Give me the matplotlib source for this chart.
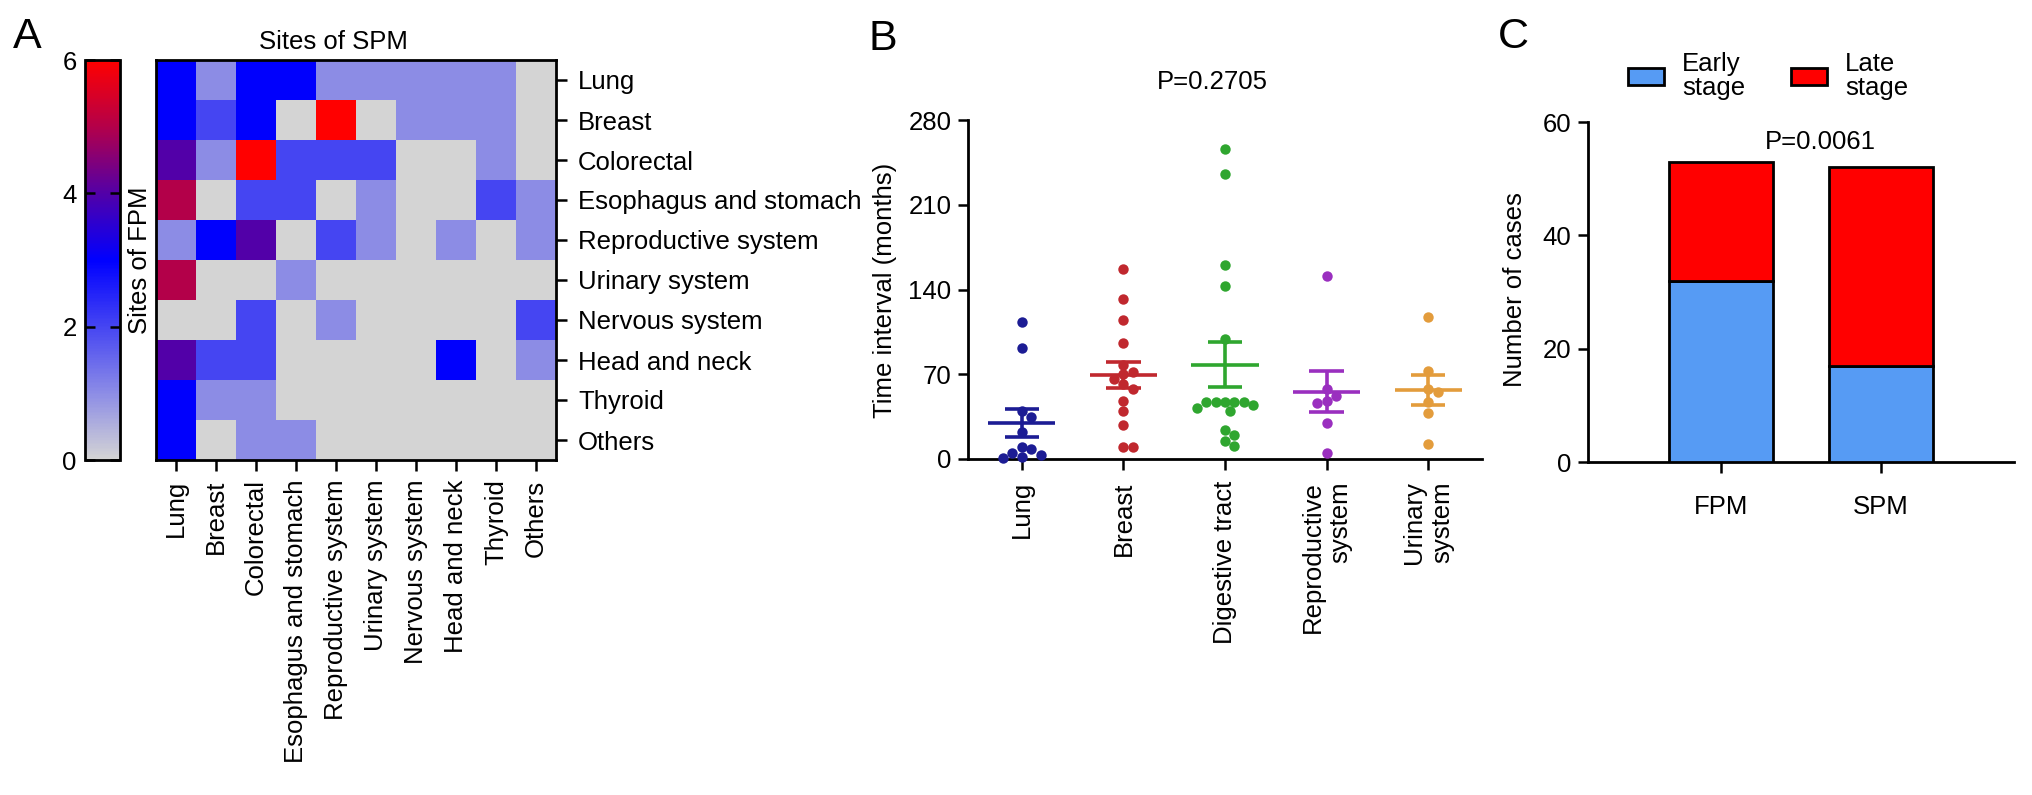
import numpy as np
import matplotlib
matplotlib.use('Agg')
import matplotlib.pyplot as plt
from matplotlib.colors import LinearSegmentedColormap
from matplotlib.patches import Patch

plt.rcParams['font.family'] = ['Liberation Sans', 'DejaVu Sans']

# ---------------- data ----------------
sites = ["Lung", "Breast", "Colorectal", "Esophagus and stomach", "Reproductive system",
         "Urinary system", "Nervous system", "Head and neck", "Thyroid", "Others"]
# rows: sites of FPM, columns: sites of SPM
heat_values = [
    [3, 1, 3, 3, 1, 1, 1, 1, 1, 0],
    [3, 2, 3, 0, 6, 0, 1, 1, 1, 0],
    [4, 1, 6, 2, 2, 2, 0, 0, 1, 0],
    [5, 0, 2, 2, 0, 1, 0, 0, 2, 1],
    [1, 3, 4, 0, 2, 1, 0, 1, 0, 1],
    [5, 0, 0, 1, 0, 0, 0, 0, 0, 0],
    [0, 0, 2, 0, 1, 0, 0, 0, 0, 2],
    [4, 2, 2, 0, 0, 0, 0, 3, 0, 1],
    [3, 1, 1, 0, 0, 0, 0, 0, 0, 0],
    [3, 0, 1, 1, 0, 0, 0, 0, 0, 0],
]
cbar_ticks = [0, 2, 4, 6]

groups_b = ["Lung", "Breast", "Digestive tract", "Reproductive\nsystem", "Urinary\nsystem"]
lung_vals = [113, 92, 40, 35, 22, 10, 8, 5, 3, 2, 1]
breast_vals = [157, 132, 115, 96, 78, 72, 70, 66, 62, 58, 48, 40, 28, 10, 10]
digestive_vals = [256, 235, 160, 143, 99, 47, 47, 45, 42, 47, 47, 47, 40, 24, 20, 15, 11]
reproductive_vals = [151, 58, 52, 48, 46, 30, 5]
urinary_vals = [117, 73, 58, 55, 47, 38, 12]
b_colors = ["#1c1c94", "#c0282e", "#2fa62f", "#9a2fbf", "#e39c3c"]
b_yticks = [0, 70, 140, 210, 280]

stage_groups = ["FPM", "SPM"]
early_counts = [32, 17]
late_counts = [21, 35]
c_yticks = [0, 20, 40, 60]

# ---------------- figure ----------------
W, H = 2032, 795
fig = plt.figure(figsize=(W / 100, H / 100), dpi=100)
FS = 18.5


def ax_px(l, t, r, b):
    return fig.add_axes([l / W, 1 - b / H, (r - l) / W, (b - t) / H])


# ----- Panel A: heatmap -----
cmap = LinearSegmentedColormap.from_list(
    "fpm", [(0, "#d4d4d4"), (1 / 6, "#8c8ce6"), (2 / 6, "#4545f2"), (3 / 6, "#0000ff"),
            (4 / 6, "#5200a8"), (5 / 6, "#b3004a"), (1, "#ff0000")])
ax_h = ax_px(156, 60, 556, 460)
im = ax_h.imshow(np.array(heat_values), cmap=cmap, vmin=0, vmax=6, aspect='auto',
                 interpolation='nearest')
ax_h.set_xticks(range(len(sites)))
ax_h.set_xticklabels(sites, rotation=90, fontsize=FS)
ax_h.set_yticks(range(len(sites)))
ax_h.set_yticklabels(sites, fontsize=FS)
ax_h.tick_params(axis='x', bottom=True, top=False, direction='out', length=8, width=1.8, pad=6)
ax_h.tick_params(axis='y', left=False, right=True, labelleft=False, labelright=True,
                 direction='out', length=8, width=1.8, pad=8)
for s in ax_h.spines.values():
    s.set_linewidth(2)

cax = ax_px(85, 60, 120, 460)
cb = fig.colorbar(im, cax=cax, ticks=cbar_ticks)
cb.outline.set_linewidth(2)
cax.yaxis.set_ticks_position('both')
cax.tick_params(direction='in', left=True, right=True, labelleft=True, labelright=False,
                length=7, width=1.8, labelsize=FS, pad=6)

fig.text(13 / W, 1 - 48 / H, "A", fontsize=31, ha='left', va='baseline')
fig.text(333 / W, 1 - 42 / H, "Sites of SPM", fontsize=FS, ha='center', va='center')
fig.text(140 / W, 1 - 260 / H, "Sites of FPM", fontsize=FS, ha='center', va='center',
         rotation=90)

# ----- Panel B: dot plot -----
ax_b = ax_px(968, 120, 1482, 459)
b_data = [lung_vals, breast_vals, digestive_vals, reproductive_vals, urinary_vals]


def swarm_offsets(vals, dx, dy):
    vals = np.asarray(vals, float)
    order = np.argsort(-vals)
    placed = []
    offs = np.zeros(len(vals))
    cands = [0.0]
    for k in range(1, 40):
        cands += [k * dx * 0.5, -k * dx * 0.5]
    for i in order:
        y = vals[i]
        for c in cands:
            if all(((c - px) / dx) ** 2 + ((y - py) / dy) ** 2 >= 1.0 for px, py in placed):
                break
        offs[i] = c
        placed.append((c, y))
    return offs


for i, (vals, col) in enumerate(zip(b_data, b_colors)):
    v = np.asarray(vals, float)
    offs = swarm_offsets(v, 0.092, 7.6)
    ax_b.plot(i + offs, v, 'o', color=col, ms=7.5, mec='none', clip_on=False, zorder=3)
    m = v.mean()
    sem = v.std(ddof=1) / np.sqrt(len(v))
    ax_b.hlines(m, i - 0.33, i + 0.33, color=col, lw=2.6, zorder=4)
    ax_b.hlines([m - sem, m + sem], i - 0.17, i + 0.17, color=col, lw=2.6, zorder=4)
    ax_b.vlines(i, m - sem, m + sem, color=col, lw=2.6, zorder=4)

ax_b.set_xlim(-0.53, 4.53)
ax_b.set_ylim(0, 280)
ax_b.set_yticks(b_yticks)
ax_b.set_xticks(range(len(groups_b)))
ax_b.set_xticklabels(groups_b, rotation=90, fontsize=FS, multialignment='right')
ax_b.tick_params(axis='y', labelsize=FS, length=7, width=1.8, pad=5)
ax_b.tick_params(axis='x', length=8, width=1.8, pad=8)
for k in ['top', 'right']:
    ax_b.spines[k].set_visible(False)
for k in ['left', 'bottom']:
    ax_b.spines[k].set_linewidth(2)

fig.text(869 / W, 1 - 50 / H, "B", fontsize=31, ha='left', va='baseline')
fig.text(1212 / W, 1 - 82 / H, "P=0.2705", fontsize=FS, ha='center', va='center')
fig.text(885 / W, 1 - 290 / H, "Time interval (months)", fontsize=FS, ha='center',
         va='center', rotation=90)

# ----- Panel C: stacked bars -----
blue = "#569bf4"
ax_c = ax_px(1588, 122, 2014, 462)
xc = np.arange(len(stage_groups))
ax_c.bar(xc, early_counts, width=0.65, color=blue, edgecolor='black', lw=2, zorder=3)
ax_c.bar(xc, late_counts, width=0.65, bottom=early_counts, color='#ff0000',
         edgecolor='black', lw=2, zorder=3)
ax_c.set_xlim(-0.83, 1.83)
ax_c.set_ylim(0, 60)
ax_c.set_yticks(c_yticks)
ax_c.set_xticks(xc)
ax_c.set_xticklabels(stage_groups, fontsize=FS)
ax_c.tick_params(axis='y', labelsize=FS, length=7, width=1.8, pad=5)
ax_c.tick_params(axis='x', length=8, width=1.8, pad=16)
for k in ['top', 'right']:
    ax_c.spines[k].set_visible(False)
for k in ['left', 'bottom']:
    ax_c.spines[k].set_linewidth(2)

fig.text(1498 / W, 1 - 48 / H, "C", fontsize=31, ha='left', va='baseline')
fig.text(1820 / W, 1 - 142 / H, "P=0.0061", fontsize=FS, ha='center', va='center')
fig.text(1515 / W, 1 - 290 / H, "Number of cases", fontsize=FS, ha='center',
         va='center', rotation=90)

handles = [Patch(facecolor=blue, edgecolor='black', lw=2, label="Early\nstage"),
           Patch(facecolor='#ff0000', edgecolor='black', lw=2, label="Late\nstage")]
leg = fig.legend(handles=handles, loc='center left', bbox_to_anchor=(1628 / W, 1 - 76 / H),
                 bbox_transform=fig.transFigure, ncol=2, frameon=False, fontsize=FS,
                 handlelength=1.4, handleheight=0.65, handletextpad=0.7,
                 columnspacing=1.8, borderpad=0, borderaxespad=0)
for t in leg.get_texts():
    t.set_linespacing(1.0)

fig.savefig("out.png", dpi=100)
